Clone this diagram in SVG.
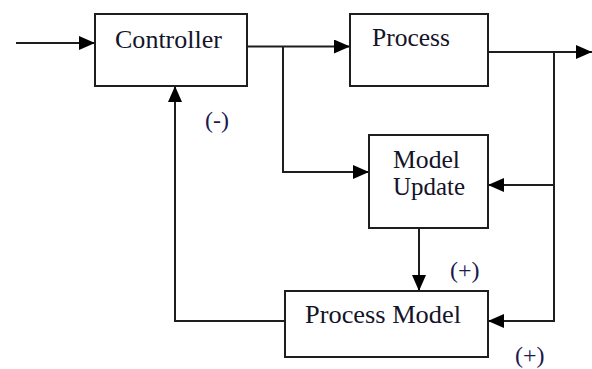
<svg xmlns="http://www.w3.org/2000/svg" width="592" height="369" viewBox="0 0 592 369">
  <style>
    .box { fill: #ffffff; stroke: #1e1e1e; stroke-width: 2; }
    .wire { fill: none; stroke: #1e1e1e; stroke-width: 2; }
    text { font-family: 'Liberation Serif', 'DejaVu Serif', serif; }
    .label { font-size: 25px; fill: #141428; }
    .sign { font-size: 24px; fill: #201850; }
  </style>
  <defs>
    <marker id="arrow" viewBox="0 0 16 14" refX="16" refY="7" markerWidth="16" markerHeight="14" markerUnits="userSpaceOnUse" orient="auto">
      <path d="M0,0 L16,7 L0,14 Z" fill="#000000"/>
    </marker>
  </defs>

  <rect width="592" height="369" fill="#ffffff"/>

  <g id="connectors">
    <!-- reference input -->
    <path class="wire" d="M16,43 H95" marker-end="url(#arrow)"/>
    <!-- controller output to process -->
    <path class="wire" d="M247,46.5 H350" marker-end="url(#arrow)"/>
    <!-- controller output branch to model update -->
    <path class="wire" d="M283,46.5 V172 H369" marker-end="url(#arrow)"/>
    <!-- process output -->
    <path class="wire" d="M488,52 H592" marker-end="url(#arrow)"/>
    <!-- measured output back to model update -->
    <path class="wire" d="M554,52 V185 H488" marker-end="url(#arrow)"/>
    <!-- measured output to process model -->
    <path class="wire" d="M554,185 V321 H488" marker-end="url(#arrow)"/>
    <!-- model update to process model -->
    <path class="wire" d="M419,228 V291" marker-end="url(#arrow)"/>
    <!-- model feedback to controller -->
    <path class="wire" d="M285,321 H175 V86" marker-end="url(#arrow)"/>
  </g>

  <g id="controller">
    <rect class="box" x="95" y="14" width="152" height="72"/>
    <text class="label" x="115" y="48" textLength="107" lengthAdjust="spacingAndGlyphs">Controller</text>
  </g>

  <g id="process">
    <rect class="box" x="350" y="14" width="138" height="72"/>
    <text class="label" x="372" y="46" textLength="78" lengthAdjust="spacingAndGlyphs">Process</text>
  </g>

  <g id="model-update">
    <rect class="box" x="369" y="135" width="119" height="93"/>
    <text class="label" x="393" y="168" textLength="67" lengthAdjust="spacingAndGlyphs">Model</text>
    <text class="label" x="393" y="195" textLength="72" lengthAdjust="spacingAndGlyphs">Update</text>
  </g>

  <g id="process-model">
    <rect class="box" x="285" y="291" width="203" height="66"/>
    <text class="label" x="305" y="323" textLength="156" lengthAdjust="spacingAndGlyphs">Process Model</text>
  </g>

  <g id="signs">
    <text class="sign" x="205" y="128">(-)</text>
    <text class="sign" x="450" y="278">(+)</text>
    <text class="sign" x="515" y="363">(+)</text>
  </g>
</svg>
